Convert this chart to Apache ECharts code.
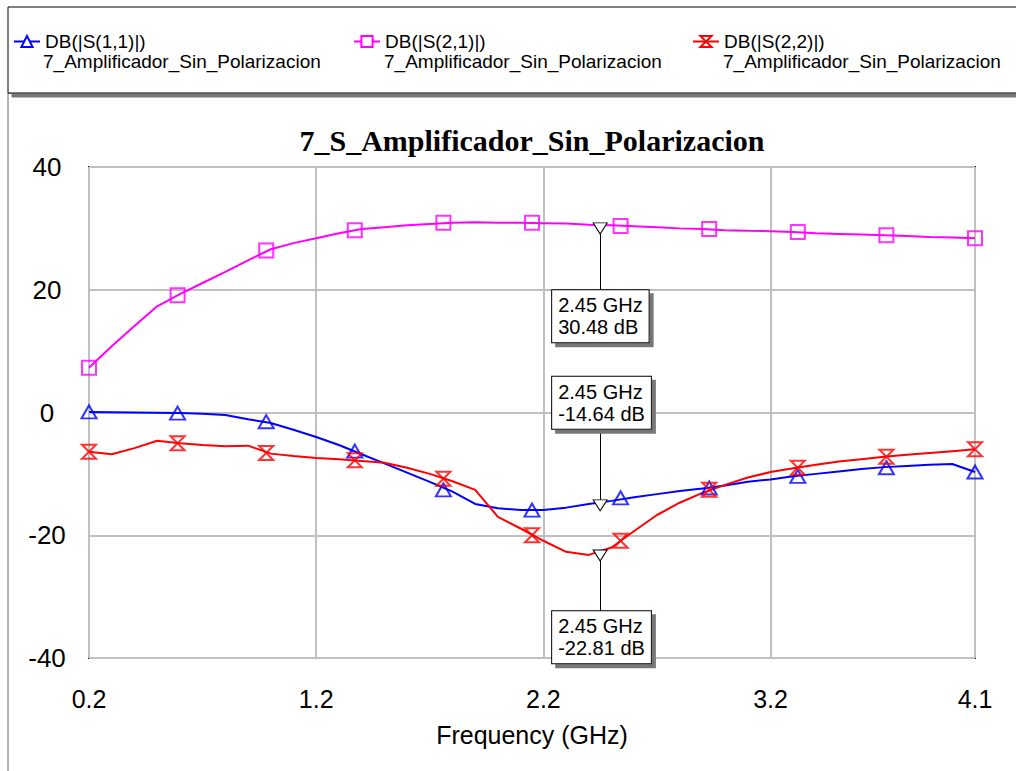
<!DOCTYPE html>
<html>
<head>
<meta charset="utf-8">
<script src="https://cdn.jsdelivr.net/npm/echarts@6/dist/echarts.min.js"></script>
<style>
html, body { margin: 0; padding: 0; background: #fff; }
#chart { width: 1016px; height: 771px; }
</style>
</head>
<body>
<div id="chart"></div>
<script>
// frequency sweep (GHz) and traces (dB)
var freq = [0.2, 0.3, 0.4, 0.5, 0.6, 0.7, 0.8, 0.9, 1.0, 1.1, 1.2, 1.3, 1.4, 1.5, 1.6, 1.7, 1.8, 1.9, 2.0, 2.1,
            2.2, 2.3, 2.4, 2.5, 2.6, 2.7, 2.8, 2.9, 3.0, 3.1, 3.2, 3.3, 3.4, 3.5, 3.6, 3.7, 3.8, 3.9, 4.0, 4.1];
var s11 = [0.1, 0.05, 0.0, -0.05, -0.1, -0.2, -0.4, -1.1, -1.7, -2.8, -4.0, -5.3, -6.8, -8.3, -9.8, -11.3, -12.9, -14.9, -15.6, -15.9,
           -15.9, -15.5, -14.9, -14.4, -13.8, -13.3, -12.8, -12.4, -11.9, -11.3, -10.9, -10.4, -10.0, -9.6, -9.2, -8.9, -8.7, -8.5, -8.4, -9.7];
var s21 = [7.3, 10.8, 14.1, 17.3, 19.3, 21.1, 22.9, 24.8, 26.6, 27.6, 28.4, 29.2, 29.9, 30.2, 30.5, 30.7, 30.9, 31.0, 30.9, 30.9,
           30.85, 30.8, 30.6, 30.5, 30.35, 30.2, 30.0, 29.9, 29.7, 29.6, 29.55, 29.4, 29.2, 29.1, 29.0, 28.9, 28.75, 28.6, 28.5, 28.4];
var s22 = [-6.4, -6.8, -5.8, -4.6, -5.0, -5.3, -5.5, -5.4, -6.7, -7.1, -7.4, -7.6, -7.9, -8.2, -9.0, -10.0, -11.2, -12.6, -17.0, -18.9,
           -20.9, -22.7, -23.2, -22.0, -19.3, -16.7, -14.7, -13.1, -11.8, -10.6, -9.7, -9.1, -8.5, -8.0, -7.6, -7.2, -6.9, -6.6, -6.3, -6.0];

// trace symbols (placed every 0.39 GHz)
var markerFreq = [0.2, 0.59, 0.98, 1.37, 1.76, 2.15, 2.54, 2.93, 3.32, 3.71, 4.1];
var s11Marks = [0.1, -0.1, -1.5, -6.3, -12.6, -15.9, -13.9, -12.3, -10.4, -9.0, -9.7];
var s21Marks = [7.3, 19.1, 26.4, 29.7, 30.9, 30.9, 30.4, 29.9, 29.4, 28.9, 28.4];
var s22Marks = [-6.4, -5.0, -6.6, -7.8, -10.8, -20.0, -20.9, -12.6, -9.0, -7.2, -6.0];

// readout markers at 2.45 GHz
var readFreq = 2.45;
var readVals = [30.48, -14.64, -22.81];
var boxCenter = [15.7, 1.6, -36.6];   // where the readout boxes sit (dB)
var boxEdge = [20, -2.85, -32.5];     // leader line end (dB)

var names = ['DB(|S(1,1)|)', 'DB(|S(2,1)|)', 'DB(|S(2,2)|)'];
var subName = '7_Amplificador_Sin_Polarizacion';
var xTicks = [0.2, 1.2, 2.2, 3.2, 4.1];

var SANS = 'Liberation Sans, Arial, sans-serif';
var colors = ['#0000ff', '#ff00ff', '#ff0000'];
var symbols = ['triangle', 'rect', 'path://M0,0L10,0L0,10L10,10Z'];
var traces = [s11, s21, s22];
var marks = [s11Marks, s21Marks, s22Marks];

function pairs(xs, ys) {
    return xs.map(function (x, i) { return [x, ys[i]]; });
}

var series = [];
traces.forEach(function (tr, k) {
    var s = {
        name: names[k],
        type: 'line',
        data: pairs(freq, tr),
        symbol: symbols[k],
        symbolSize: 12,
        showSymbol: false,
        smooth: false,
        lineStyle: { color: colors[k], width: 2 },
        itemStyle: { color: '#fff', borderColor: colors[k], borderWidth: 2 },
        emphasis: { disabled: true },
        z: 3
    };
    // readout for this trace
    s.markLine = {
        silent: true,
        symbol: ['none', 'none'],
        label: { show: false },
        lineStyle: { color: '#000', width: 1, type: 'solid' },
        data: [[{ coord: [readFreq, readVals[k]] }, { coord: [readFreq, boxEdge[k]] }]]
    };
    s.markPoint = {
        silent: true,
        data: [
            {
                coord: [readFreq, readVals[k]],
                symbol: 'triangle', symbolRotate: 180, symbolSize: [14, 11], symbolOffset: [0, 3],
                itemStyle: { color: '#fff', borderColor: '#000', borderWidth: 1 },
                label: { show: false }
            },
            {
                coord: [readFreq, boxCenter[k]],
                symbol: 'circle', symbolSize: 1,
                itemStyle: { color: 'rgba(0,0,0,0)' },
                label: {
                    show: true, position: 'inside', offset: [-48, 0],
                    formatter: readFreq.toFixed(2) + ' GHz\n' + readVals[k].toFixed(2) + ' dB',
                    color: '#000', fontFamily: SANS, fontSize: 20, lineHeight: 22, align: 'left',
                    backgroundColor: '#fff', borderColor: '#000', borderWidth: 1,
                    padding: [4, 6, 4, 6],
                    shadowColor: '#777', shadowOffsetX: 4, shadowOffsetY: 4, shadowBlur: 0
                }
            }
        ]
    };
    series.push(s);
    series.push({
        name: names[k] + ' marks',
        type: 'scatter',
        data: pairs(markerFreq, marks[k]),
        symbol: symbols[k],
        symbolSize: k == 0 ? [15, 13] : 14,
        itemStyle: { color: 'rgba(255,255,255,0)', borderColor: colors[k], borderWidth: 2 },
        emphasis: { disabled: true },
        silent: true,
        z: 4
    });
});

var legendLeft = [13, 353, 692];
var legends = names.map(function (n, i) {
    return {
        left: legendLeft[i], top: 32,
        data: [n],
        itemWidth: 26, itemHeight: 14, padding: 0,
        selectedMode: false,
        textStyle: { fontFamily: SANS, fontSize: 19, color: '#000' }
    };
});

var graphics = [
    { type: 'rect', z: -20, shape: { x: 8, y: 93, width: 1100, height: 800 },
      style: { fill: '#fff', stroke: '#666', lineWidth: 1 } },
    { type: 'rect', z: -10, shape: { x: 8, y: 7, width: 1100, height: 86 },
      style: { fill: '#fff', stroke: '#000', lineWidth: 1, shadowColor: '#777', shadowOffsetX: 4, shadowOffsetY: 4, shadowBlur: 0 } }
];
[43, 384, 723].forEach(function (x) {
    graphics.push({ type: 'text', x: x, y: 61, z: 10,
        style: { text: subName, fill: '#000', fontFamily: SANS, fontSize: 19, verticalAlign: 'middle' } });
});

var myChart = echarts.init(document.getElementById('chart'), null, { renderer: 'svg' });
var option = {
    animation: false,
    backgroundColor: '#fff',
    title: {
        text: '7_S_Amplificador_Sin_Polarizacion',
        left: 532, top: 125, padding: 0, textAlign: 'center',
        textStyle: { fontFamily: 'Liberation Serif, Times New Roman, serif', fontWeight: 'bold', fontSize: 30, color: '#000' }
    },
    legend: legends,
    graphic: graphics,
    grid: {
        left: 89, right: 41, top: 167, bottom: 113,
        show: true, borderColor: '#000', borderWidth: 2, backgroundColor: 'rgba(0,0,0,0)'
    },
    xAxis: {
        type: 'value', min: 0.2, max: 4.1,
        name: 'Frequency (GHz)', nameLocation: 'middle', nameGap: 64,
        nameTextStyle: { fontFamily: SANS, fontSize: 25, color: '#000' },
        axisLine: { show: false },
        axisTick: { show: false, customValues: xTicks },
        axisLabel: { customValues: xTicks, margin: 28, fontFamily: SANS, fontSize: 25, color: '#000',
            formatter: function (v) { return v.toFixed(1); } },
        splitLine: { show: true, lineStyle: { color: '#c0c0c0', width: 2 } }
    },
    yAxis: {
        type: 'value', min: -40, max: 40, interval: 20,
        axisLine: { show: false },
        axisTick: { show: false },
        axisLabel: { margin: 42, align: 'center', fontFamily: SANS, fontSize: 26, color: '#000' },
        splitLine: { show: true, lineStyle: { color: '#c0c0c0', width: 2 } }
    },
    series: series
};
myChart.setOption(option);
</script>
</body>
</html>
